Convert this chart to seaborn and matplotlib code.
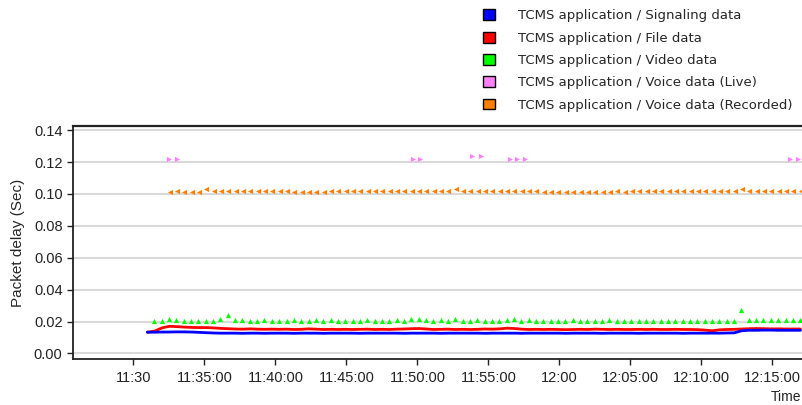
import pandas as pd
import numpy as np
import matplotlib.pyplot as plt
import seaborn as sns
from matplotlib.patches import Patch

sns.set_style('white')
plt.rcParams['font.family'] = ['Liberation Sans', 'DejaVu Sans']

# ---- data (packet delay in seconds) ----
labels = ['TCMS application / Signaling data', 'TCMS application / File data',
          'TCMS application / Video data', 'TCMS application / Voice data (Live)',
          'TCMS application / Voice data (Recorded)']
colors = ['#0000ff', '#ff0000', '#00ff00', '#ff80ff', '#ff8000']

signaling = [0.0133, 0.0133, 0.0134, 0.0134, 0.0135, 0.0135, 0.0134, 0.0132, 0.0130, 0.0128,
             0.0127, 0.0127, 0.0127, 0.0126, 0.0127, 0.0127, 0.0126, 0.0127, 0.0127, 0.0127,
             0.0126, 0.0127, 0.0127, 0.0127, 0.0126, 0.0127, 0.0127, 0.0127, 0.0127, 0.0126,
             0.0127, 0.0127, 0.0127, 0.0127, 0.0127, 0.0126, 0.0127, 0.0127, 0.0127, 0.0127,
             0.0126, 0.0127, 0.0127, 0.0127, 0.0127, 0.0127, 0.0126, 0.0127, 0.0127, 0.0127,
             0.0127, 0.0126, 0.0127, 0.0127, 0.0127, 0.0127, 0.0127, 0.0126, 0.0127, 0.0127,
             0.0127, 0.0127, 0.0126, 0.0127, 0.0127, 0.0127, 0.0127, 0.0126, 0.0127, 0.0127,
             0.0127, 0.0127, 0.0127, 0.0126, 0.0127, 0.0127, 0.0127, 0.0127, 0.0127, 0.0128,
             0.0129, 0.0142, 0.0145, 0.0145, 0.0146, 0.0146, 0.0145, 0.0145, 0.0145, 0.0145]
file_data = [0.0133, 0.0140, 0.0160, 0.0170, 0.0168, 0.0165, 0.0163, 0.0162, 0.0162, 0.0160,
             0.0157, 0.0155, 0.0153, 0.0152, 0.0154, 0.0152, 0.0151, 0.0152, 0.0151, 0.0152,
             0.0150, 0.0151, 0.0154, 0.0152, 0.0150, 0.0151, 0.0150, 0.0151, 0.0150, 0.0151,
             0.0152, 0.0150, 0.0151, 0.0150, 0.0152, 0.0153, 0.0155, 0.0156, 0.0153, 0.0150,
             0.0151, 0.0152, 0.0150, 0.0151, 0.0150, 0.0151, 0.0153, 0.0152, 0.0154, 0.0158,
             0.0156, 0.0152, 0.0150, 0.0151, 0.0150, 0.0151, 0.0150, 0.0149, 0.0150, 0.0151,
             0.0150, 0.0152, 0.0151, 0.0150, 0.0151, 0.0150, 0.0150, 0.0151, 0.0150, 0.0151,
             0.0150, 0.0150, 0.0151, 0.0150, 0.0150, 0.0149, 0.0146, 0.0142, 0.0148, 0.0150,
             0.0151, 0.0153, 0.0155, 0.0156, 0.0155, 0.0154, 0.0154, 0.0153, 0.0153, 0.0153]
video = [0.0202, 0.0202, 0.0215, 0.0210, 0.0202, 0.0202, 0.0202, 0.0202, 0.0202, 0.0215,
         0.0238, 0.0210, 0.0210, 0.0202, 0.0202, 0.0210, 0.0202, 0.0202, 0.0202, 0.0210,
         0.0202, 0.0205, 0.0210, 0.0202, 0.0210, 0.0202, 0.0202, 0.0202, 0.0202, 0.0210,
         0.0202, 0.0202, 0.0202, 0.0210, 0.0202, 0.0215, 0.0215, 0.0210, 0.0202, 0.0210,
         0.0202, 0.0215, 0.0202, 0.0205, 0.0210, 0.0202, 0.0202, 0.0202, 0.0210, 0.0215,
         0.0205, 0.0210, 0.0202, 0.0202, 0.0202, 0.0202, 0.0202, 0.0210, 0.0202, 0.0202,
         0.0202, 0.0202, 0.0210, 0.0202, 0.0202, 0.0202, 0.0202, 0.0202, 0.0202, 0.0202,
         0.0202, 0.0202, 0.0202, 0.0202, 0.0202, 0.0202, 0.0202, 0.0202, 0.0202, 0.0202,
         0.0270, 0.0212, 0.0212, 0.0212, 0.0212, 0.0212, 0.0212, 0.0212, 0.0212]
voice_rec = [0.1015, 0.1020, 0.1015, 0.1015, 0.1015, 0.1030, 0.1020, 0.1020, 0.1020, 0.1020,
             0.1020, 0.1020, 0.1020, 0.1020, 0.1020, 0.1020, 0.1020, 0.1015, 0.1015, 0.1015,
             0.1015, 0.1015, 0.1020, 0.1020, 0.1020, 0.1020, 0.1020, 0.1020, 0.1020, 0.1020,
             0.1020, 0.1020, 0.1020, 0.1020, 0.1020, 0.1020, 0.1020, 0.1020, 0.1020, 0.1030,
             0.1020, 0.1020, 0.1020, 0.1020, 0.1020, 0.1020, 0.1020, 0.1020, 0.1020, 0.1020,
             0.1020, 0.1015, 0.1015, 0.1015, 0.1015, 0.1015, 0.1015, 0.1015, 0.1015, 0.1015,
             0.1015, 0.1020, 0.1013, 0.1020, 0.1020, 0.1020, 0.1020, 0.1020, 0.1020, 0.1020,
             0.1020, 0.1020, 0.1020, 0.1020, 0.1020, 0.1020, 0.1020, 0.1020, 0.1032, 0.1020,
             0.1020, 0.1020, 0.1020, 0.1020, 0.1020, 0.1020, 0.1020]
voice_live_times = ['11:32:29', '11:33:03', '11:49:43', '11:50:13', '11:53:50', '11:54:28',
                    '11:56:31', '11:57:01', '11:57:35', '12:16:14', '12:16:49']
voice_live = [0.122, 0.122, 0.122, 0.122, 0.1235, 0.1235, 0.122, 0.122, 0.122, 0.122, 0.122]

tick_times = ['11:30:00', '11:35:00', '11:40:00', '11:45:00', '11:50:00', '11:55:00',
              '12:00:00', '12:05:00', '12:10:00', '12:15:00']
tick_labels = ['11:30', '11:35:00', '11:40:00', '11:45:00', '11:50:00', '11:55:00',
               '12:00', '12:05:00', '12:10:00', '12:15:00']

day = '2020-01-01 '
# samples every ~31 s
t_lines = pd.date_range(day + '11:30:59', periods=len(signaling), freq='31s')
t_video = pd.date_range(day + '11:31:29', periods=len(video), freq='31s')
t_rec = pd.date_range(day + '11:32:33', periods=len(voice_rec), freq='31s')
t_live = pd.to_datetime([day + s for s in voice_live_times])

fig = plt.figure(figsize=(8.02, 4.05), dpi=100)
ax = fig.add_axes([0.091, 0.1136, 0.915, 0.575])

sns.lineplot(x=t_lines, y=file_data, color=colors[1], lw=2, ax=ax)
sns.lineplot(x=t_lines, y=signaling, color=colors[0], lw=2, ax=ax)
sns.scatterplot(x=t_video, y=video, color=colors[2], marker='^', s=14, linewidth=0, ax=ax)
sns.scatterplot(x=t_rec, y=voice_rec, color=colors[4], marker='<', s=14, linewidth=0, ax=ax)
sns.scatterplot(x=t_live, y=voice_live, color=colors[3], marker='>', s=14, linewidth=0, ax=ax)

ax.set_xlim(pd.Timestamp(day + '11:25:45'), pd.Timestamp(day + '12:17:25'))
ax.set_ylim(-0.0035, 0.1425)
ax.set_yticks([0.0, 0.02, 0.04, 0.06, 0.08, 0.10, 0.12, 0.14])
ax.set_yticklabels(['%.2f' % v for v in ax.get_yticks()])
ax.set_xticks(pd.to_datetime([day + s for s in tick_times]))
ax.set_xticklabels(tick_labels)
ax.tick_params(axis='both', labelsize=10.5, colors='#222222', length=4, width=1, direction='out',
               bottom=True, left=True)
ax.tick_params(axis='x', pad=5)
ax.grid(axis='y', color='#d9d9d9', lw=1.5)
ax.grid(axis='x', visible=False)
for side in ['left', 'bottom', 'top']:
    ax.spines[side].set_color('#222222')
    ax.spines[side].set_linewidth(1.3)
ax.spines['top'].set_linewidth(1.6)
ax.spines['right'].set_visible(False)

ax.set_xlabel('')
ax.set_ylabel('Packet delay (Sec)', fontsize=11, labelpad=6)
fig.text(0.999, 0.02, 'Time', ha='right', va='center', fontsize=10)

handles = [Patch(facecolor=c, edgecolor='black', lw=1) for c in colors]
fig.legend(handles, labels, loc='upper left', bbox_to_anchor=(0.588, 1.006), frameon=False,
           handlelength=0.9, handleheight=0.9, handletextpad=1.75,
           labelspacing=0.70, prop={'family': 'DejaVu Sans', 'size': 9.5})

fig.savefig('out.png', dpi=100)
